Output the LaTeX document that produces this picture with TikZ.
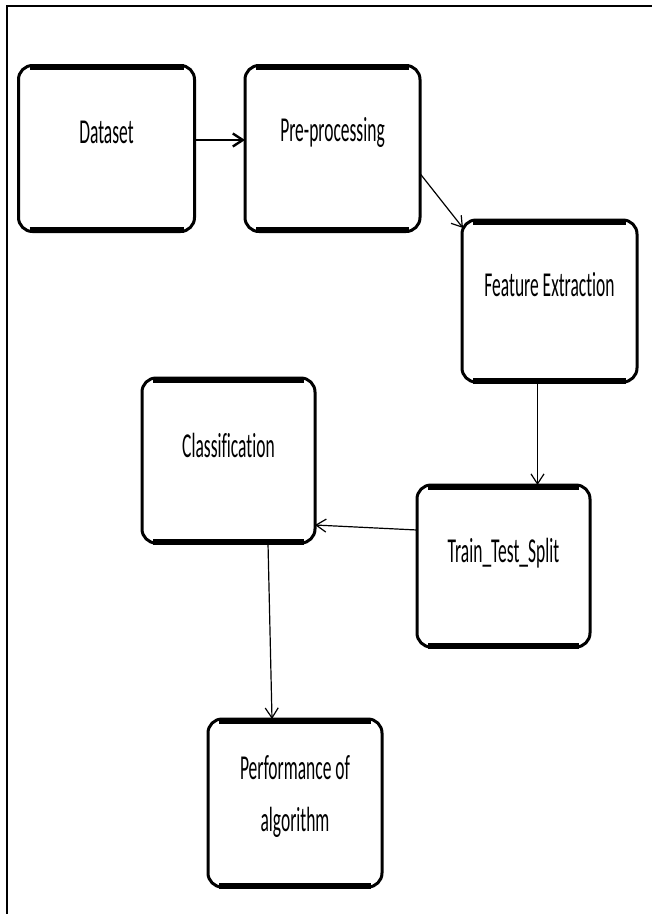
\documentclass[tikz,border=0pt]{standalone}
\usepackage{fontspec}
\newfontfamily\stagefont[FakeStretch=0.5, Ligatures={NoCommon}]{Carlito}
\usetikzlibrary{arrows.meta,positioning}

\begin{document}
\begin{tikzpicture}[x=1pt, y=-1pt,
		stage/.style={draw, rounded corners=14pt, line width=3pt, outer sep=0pt},
		stagetext/.style={font=\stagefont\fontsize{35}{40}\selectfont, align=center, inner sep=0pt},
		flow/.style={-{Straight Barb[length=10pt, width=13pt]}, line width=1.2pt}]
			\useasboundingbox (0,0) rectangle (652,914);
			% frame
			\draw[line width=2.2pt] (7,914) -- (7,6) -- (652,6);
			% stages
			\node[stage, minimum width=176pt, minimum height=166pt] (data) at (106.5,148.5) {};
			\node[stage, minimum width=175pt, minimum height=166pt] (prep) at (332.5,148.5) {};
			\node[stage, minimum width=175pt, minimum height=162pt] (feat) at (549.5,301) {};
			\node[stage, minimum width=173pt, minimum height=162pt] (split) at (503.5,566) {};
			\node[stage, minimum width=173pt, minimum height=165pt] (class) at (228.5,460.5) {};
			\node[stage, minimum width=174pt, minimum height=168pt] (perf) at (295,803) {};
			\foreach \n in {data,prep,feat,split,class,perf} {
				\draw[line width=6pt] ([xshift=11pt,yshift=-1.5pt]\n.north west) -- ([xshift=-11pt,yshift=-1.5pt]\n.north east);
				\draw[line width=6pt] ([xshift=11pt,yshift=1.5pt]\n.south west) -- ([xshift=-11pt,yshift=1.5pt]\n.south east);
			}
			\node[stagetext] (datatxt) at ([yshift=-67pt]data.north) {Dataset};
			\node[stagetext] (preptxt) at ([yshift=-67pt]prep.north) {Pre-processing};
			\node[stagetext] (feattxt) at ([yshift=-65pt]feat.north) {Feature Extraction};
			\node[stagetext] (splittxt) at ([yshift=-68pt]split.north) {Train\_Test\_Split};
			\node[stagetext] (classtxt) at ([yshift=-67pt]class.north) {Classification};
			\node[stagetext] (perftxt) at ([yshift=-77pt]perf.north) {Performance of\\[12pt] algorithm};
			% connectors
			\draw[flow, line width=2.4pt] ([yshift=8.5pt]data.east) -- ([yshift=8.5pt]prep.west);
			\draw[flow] ([yshift=-25pt]prep.east) -- ([xshift=1pt,yshift=-8pt]feat.north west);
			\draw[flow] ([xshift=-12pt]feat.south) -- ([xshift=-12pt]feat.south |- split.north);
			\draw[flow] ([yshift=36pt]split.west) -- ([yshift=-64.5pt]class.east);
			\draw[flow] ([xshift=39.5pt]class.south) -- ([xshift=-23pt]perf.north);
		\end{tikzpicture}
\end{document}
